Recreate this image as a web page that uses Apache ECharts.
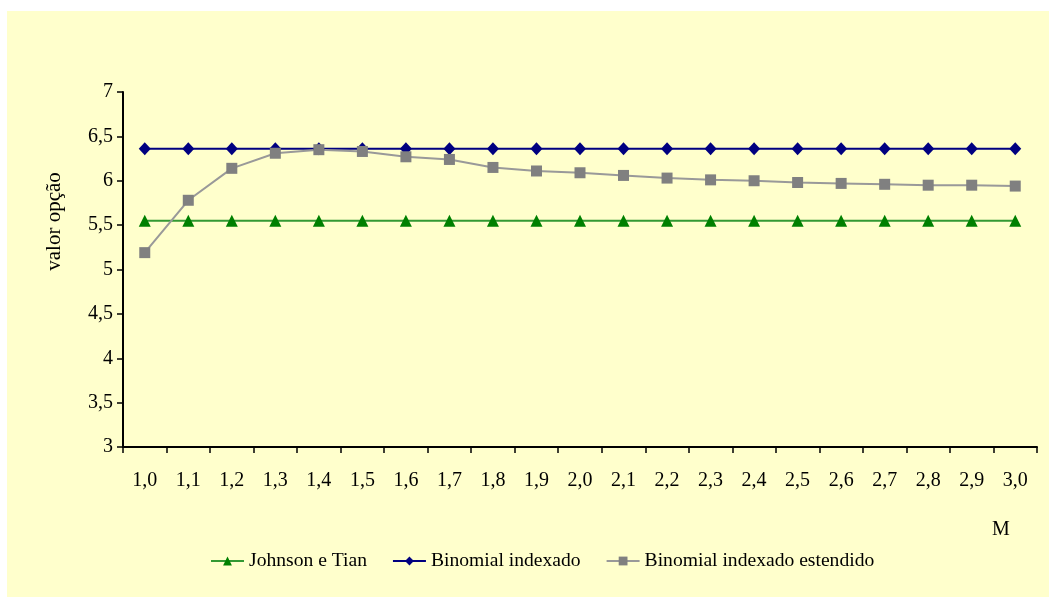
<!DOCTYPE html>
<html>
<head>
<meta charset="utf-8">
<script src="https://cdn.jsdelivr.net/npm/echarts@6/dist/echarts.min.js"></script>
<style>
  html, body { margin: 0; padding: 0; background: #ffffff; }
  #chart { width: 1049px; height: 597px; }
</style>
</head>
<body>
<div id="chart"></div>
<script>
// M values on the horizontal axis
const categories = ['1,0','1,1','1,2','1,3','1,4','1,5','1,6','1,7','1,8','1,9','2,0',
                    '2,1','2,2','2,3','2,4','2,5','2,6','2,7','2,8','2,9','3,0'];

// Option values for each method
const johnsonTian = [5.55,5.55,5.55,5.55,5.55,5.55,5.55,5.55,5.55,5.55,5.55,
                     5.55,5.55,5.55,5.55,5.55,5.55,5.55,5.55,5.55,5.55];
const binomialIndexado = [6.36,6.36,6.36,6.36,6.36,6.36,6.36,6.36,6.36,6.36,6.36,
                          6.36,6.36,6.36,6.36,6.36,6.36,6.36,6.36,6.36,6.36];
const binomialEstendido = [5.19,5.78,6.14,6.31,6.35,6.33,6.27,6.24,6.15,6.11,6.09,
                           6.06,6.03,6.01,6.00,5.98,5.97,5.96,5.95,5.95,5.94];

const serif = '"Liberation Serif", "Times New Roman", serif';
const chart = echarts.init(document.getElementById('chart'));

chart.setOption({
  animation: false,
  backgroundColor: '#ffffff',
  textStyle: { fontFamily: serif },
  graphic: [
    {
      // pale yellow chart area
      type: 'rect', left: 7, top: 11, z: -10,
      shape: { width: 1042, height: 586 },
      style: { fill: '#FFFFCC' }
    },
    {
      // horizontal axis title, placed below the last tick labels
      type: 'text', x: 1001, y: 530, z: 10,
      style: {
        text: 'M', fontFamily: serif, fontSize: 20, fill: '#000',
        align: 'center', verticalAlign: 'middle'
      }
    }
  ],
  grid: { left: 123, right: 12, top: 92, bottom: 150 },
  legend: {
    left: 205, top: 546,
    itemWidth: 33, itemHeight: 11, itemGap: 25,
    textStyle: { fontFamily: serif, fontSize: 19.6, color: '#000' },
    data: ['Johnson e Tian', 'Binomial indexado', 'Binomial indexado estendido']
  },
  xAxis: {
    type: 'category',
    data: categories,
    boundaryGap: true,
    axisLine: { lineStyle: { color: '#000', width: 2 } },
    axisTick: { show: true, length: 6, lineStyle: { color: '#000', width: 1.5 } },
    axisLabel: { margin: 24, fontFamily: serif, fontSize: 20, color: '#000' },
    splitLine: { show: false }
  },
  yAxis: {
    type: 'value',
    min: 3, max: 7, interval: 0.5,
    name: 'valor opção',
    nameLocation: 'middle',
    nameGap: 58,
    nameTextStyle: { fontFamily: serif, fontSize: 21, color: '#000', padding: [0, 0, 0, 96] },
    axisLine: { show: true, lineStyle: { color: '#000', width: 2 } },
    axisTick: { show: true, length: 6, lineStyle: { color: '#000', width: 1.5 } },
    axisLabel: {
      margin: 10, fontFamily: serif, fontSize: 20, color: '#000',
      formatter: v => String(v).replace('.', ',')
    },
    splitLine: { show: false }
  },
  series: [
    {
      name: 'Johnson e Tian', type: 'line', data: johnsonTian,
      symbol: 'triangle', symbolSize: 12,
      itemStyle: { color: '#008000' },
      lineStyle: { color: '#339933', width: 2 }
    },
    {
      name: 'Binomial indexado', type: 'line', data: binomialIndexado,
      symbol: 'diamond', symbolSize: [12, 13],
      itemStyle: { color: '#000080' },
      lineStyle: { color: '#000080', width: 2 }
    },
    {
      name: 'Binomial indexado estendido', type: 'line', data: binomialEstendido,
      symbol: 'rect', symbolSize: 11,
      itemStyle: { color: '#808080' },
      lineStyle: { color: '#999999', width: 2 }
    }
  ]
});
</script>
</body>
</html>
